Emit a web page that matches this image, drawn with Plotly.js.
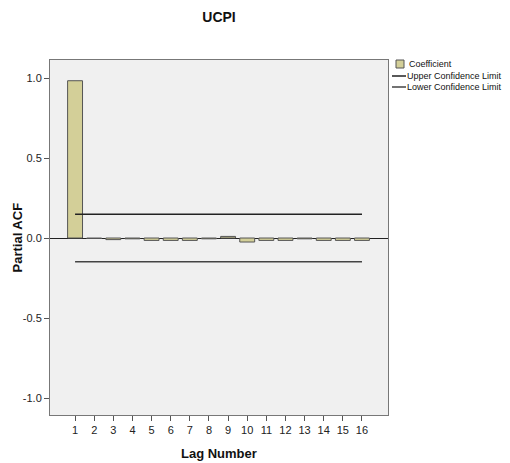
<!DOCTYPE html>
<html>
<head>
<script src="https://cdn.plot.ly/plotly-3.0.1.min.js"></script>
<style>html,body{margin:0;padding:0;background:#fff;}#chart{width:510px;height:463px;}</style>
</head>
<body>
<div id="chart"></div>
<script>
const lags = [1,2,3,4,5,6,7,8,9,10,11,12,13,14,15,16];
const coefficient = [0.983,-0.003,-0.010,-0.005,-0.015,-0.015,-0.015,-0.005,0.010,-0.025,-0.015,-0.015,-0.005,-0.015,-0.015,-0.015];
const upperCL = [0.148,0.148,0.148,0.148,0.148,0.148,0.148,0.148,0.148,0.148,0.148,0.148,0.148,0.148,0.148,0.148];
const lowerCL = [-0.148,-0.148,-0.148,-0.148,-0.148,-0.148,-0.148,-0.148,-0.148,-0.148,-0.148,-0.148,-0.148,-0.148,-0.148,-0.148];
const yTickVals = [-1.0,-0.5,0.0,0.5,1.0];
const yTickText = ['-1.0','-0.5','0.0','0.5','1.0'];
const legendNames = ['Coefficient','Upper Confidence Limit','Lower Confidence Limit'];

const font = '"Liberation Sans Narrow", "Liberation Sans", Arial, sans-serif';
const barColor = '#d3cf98';
const traces = [
  {type:'bar', x:lags, y:coefficient, name:legendNames[0], width:0.78,
   marker:{color:barColor, line:{color:'#555', width:1}}},
  {type:'scatter', mode:'lines', x:lags, y:upperCL, name:legendNames[1],
   line:{color:'#222', width:1.5}},
  {type:'scatter', mode:'lines', x:lags, y:lowerCL, name:legendNames[2],
   line:{color:'#444', width:1.5}}
];

// Legend drawn manually in pixel-like paper coordinates
const W = 510, H = 463, mL = 50, mR = 122, mT = 60, mB = 48;
const pw = W - mL - mR, ph = H - mT - mB;
const px = x => (x - mL) / pw;
const py = y => 1 - (y - mT) / ph;
const legRows = [64, 76, 87];
const shapes = [
  {type:'rect', xref:'paper', yref:'paper', x0:px(396), x1:px(404), y0:py(68), y1:py(60),
   fillcolor:barColor, line:{color:'#555', width:1}},
  {type:'line', xref:'paper', yref:'paper', x0:px(392), x1:px(406), y0:py(legRows[1]), y1:py(legRows[1]),
   line:{color:'#222', width:1.5}},
  {type:'line', xref:'paper', yref:'paper', x0:px(392), x1:px(406), y0:py(legRows[2]), y1:py(legRows[2]),
   line:{color:'#444', width:1.5}}
];
const annotations = [
  {xref:'paper', yref:'paper', x:px(407), y:py(legRows[0]), xanchor:'left', yanchor:'middle',
   text:legendNames[0], showarrow:false, font:{size:9, color:'#111'}},
  {xref:'paper', yref:'paper', x:px(405), y:py(legRows[1]), xanchor:'left', yanchor:'middle',
   text:legendNames[1], showarrow:false, font:{size:9, color:'#111'}},
  {xref:'paper', yref:'paper', x:px(405), y:py(legRows[2]), xanchor:'left', yanchor:'middle',
   text:legendNames[2], showarrow:false, font:{size:9, color:'#111'}},
  {xref:'paper', yref:'paper', x:0.5, y:0, yshift:-38, xanchor:'center', yanchor:'middle',
   text:'<b>Lag Number</b>', showarrow:false, font:{size:13, color:'#111'}},
  {xref:'paper', yref:'paper', x:0, xshift:-33, y:0.5, xanchor:'center', yanchor:'middle', textangle:-90,
   text:'<b>Partial ACF</b>', showarrow:false, font:{size:13, color:'#111'}}
];

const layout = {
  width:W, height:H,
  margin:{l:mL, r:mR, t:mT, b:mB, autoexpand:false},
  paper_bgcolor:'#fff', plot_bgcolor:'#f0f0f0',
  font:{family:font, size:11, color:'#222'},
  title:{text:'<b>UCPI</b>', x:0.5, xref:'paper', xanchor:'center', y:1-17/H, yanchor:'middle',
    font:{size:14, color:'#111', family:font}},
  showlegend:false,
  bargap:0,
  shapes:shapes,
  annotations:annotations,
  xaxis:{range:[-0.31,17.36], tickvals:lags, ticktext:lags.map(String), ticks:'outside', ticklen:5,
    tickcolor:'#555', showgrid:false, zeroline:false, showline:true, linecolor:'#777', mirror:true,
    tickfont:{size:11, color:'#222'}},
  yaxis:{range:[-1.106,1.1125], tickvals:yTickVals, ticktext:yTickText, ticks:'outside', ticklen:5,
    tickcolor:'#555', showgrid:false, zeroline:true, zerolinecolor:'#222', zerolinewidth:1,
    showline:true, linecolor:'#777', mirror:true, tickfont:{size:11, color:'#222'}}
};
Plotly.newPlot('chart', traces, layout, {displayModeBar:false, staticPlot:true});
</script>
</body>
</html>
